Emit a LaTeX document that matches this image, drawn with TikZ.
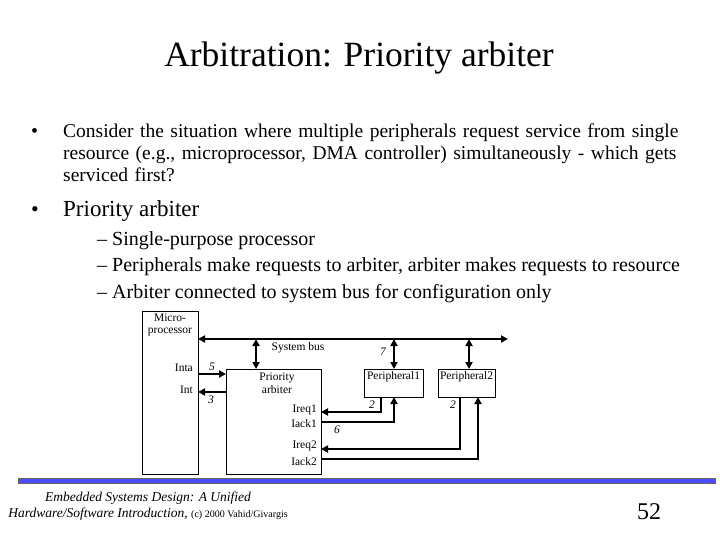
\documentclass[tikz,border=0pt]{standalone}
\usepackage{fontspec}
\setmainfont{Liberation Serif}
\usetikzlibrary{arrows.meta}
\tikzset{
  blk/.style={draw, line width=0.8pt},
  lbl/.style={font=\fontsize{11.5}{12.5}\selectfont, inner sep=1pt},
  num/.style={font=\fontsize{11.5}{12.5}\selectfont\itshape, inner sep=1pt},
  sig/.style={line width=2pt, -{Triangle[length=7pt,width=7pt]}},
  bus/.style={line width=2pt, {Triangle[length=7pt,width=7pt]}-{Triangle[length=7pt,width=7pt]}}
}
\begin{document}
\begin{tikzpicture}[x=1pt,y=-1pt]
  \useasboundingbox (0,0) rectangle (720,540);
  \node[font=\fontsize{35.5}{38}\selectfont] (title) at (359,58) {Arbitration: Priority arbiter};
  \node[anchor=north west, text width=680, align=left, font=\fontsize{19.5}{22}\selectfont, inner sep=0] (b1) at (31,124)
    {\makebox[32pt][l]{\fontsize{20}{20}\selectfont•}Consider the situation where multiple peripherals request service from single\\
     \hspace*{32pt}resource (e.g., microprocessor, DMA controller) simultaneously - which gets\\
     \hspace*{32pt}serviced first?};
  \node[anchor=west, font=\fontsize{23}{26}\selectfont, inner sep=0] (b2) at (31,211) {\makebox[32pt][l]{\fontsize{22}{22}\selectfont•}Priority arbiter};
  \node[anchor=north west, align=left, font=\fontsize{20}{26.5}\selectfont, inner sep=0] (b3) at (97,231)
    {–\ Single-purpose processor\\
     –\ Peripherals make requests to arbiter, arbiter makes requests to resource\\
     –\ Arbiter connected to system bus for configuration only};
  % blocks
  \draw[blk] (142,311) rectangle (198,474);
  \node[lbl, align=center] (mp) at (170,325) {Micro-\\processor};
  \draw[blk] (226,369) rectangle (321,474);
  \node[lbl, align=center] (pa) at (277,383) {Priority\\arbiter};
  \draw[blk] (364,369) rectangle (423,397);
  \node[lbl] (p1) at (393.5,377) {Peripheral1};
  \draw[blk] (438,369) rectangle (495,397);
  \node[lbl] (p2) at (466.5,377) {Peripheral2};
  % bus
  \coordinate (busL) at (198,339);
  \coordinate (busR) at (508,339);
  \draw[bus] (busL) -- (busR);
  \node[lbl] (sb) at (298,348) {System bus};
  \draw[bus] (256,339) -- (256,369);
  \draw[bus] (394,339) -- (394,369);
  \draw[bus] (469,339) -- (469,369);
  \node[num] at (383,352) {7};
  % interrupt lines
  \node[lbl, anchor=east] (inta) at (194,368) {Inta};
  \node[lbl, anchor=east] (int) at (194,390) {Int};
  \draw[sig] (198,374) -- (226,374);
  \draw[sig] (226,392) -- (198,392);
  \node[num] at (212,367) {5};
  \node[num] at (211,400) {3};
  \node[lbl, anchor=east] (ir1) at (318,410) {Ireq1};
  \node[lbl, anchor=east] (ia1) at (318,424) {Iack1};
  \node[lbl, anchor=east] (ir2) at (318,446) {Ireq2};
  \node[lbl, anchor=east] (ia2) at (318,462) {Iack2};
  \draw[sig] (381,397) |- (321,412);
  \draw[sig] (321,422) -| (394,397);
  \draw[sig] (460,397) |- (321,449);
  \draw[sig] (321,459) -| (478,397);
  \node[num] at (372,405) {2};
  \node[num] at (453,405) {2};
  \node[num] at (337,430) {6};
  % footer
  \fill[blue!70!white, draw=black!60, line width=0.3pt] (18,478) rectangle (715,483);
  \node[font=\fontsize{13.5}{15.5}\selectfont\itshape, align=center] (ft) at (148,506)
    {Embedded Systems Design: A Unified\\Hardware/Software Introduction, {\upshape\fontsize{10}{11}\selectfont (c) 2000 Vahid/Givargis}};
  \node[font=\fontsize{24}{26}\selectfont] (pg) at (649,512) {52};
\end{tikzpicture}
\end{document}
